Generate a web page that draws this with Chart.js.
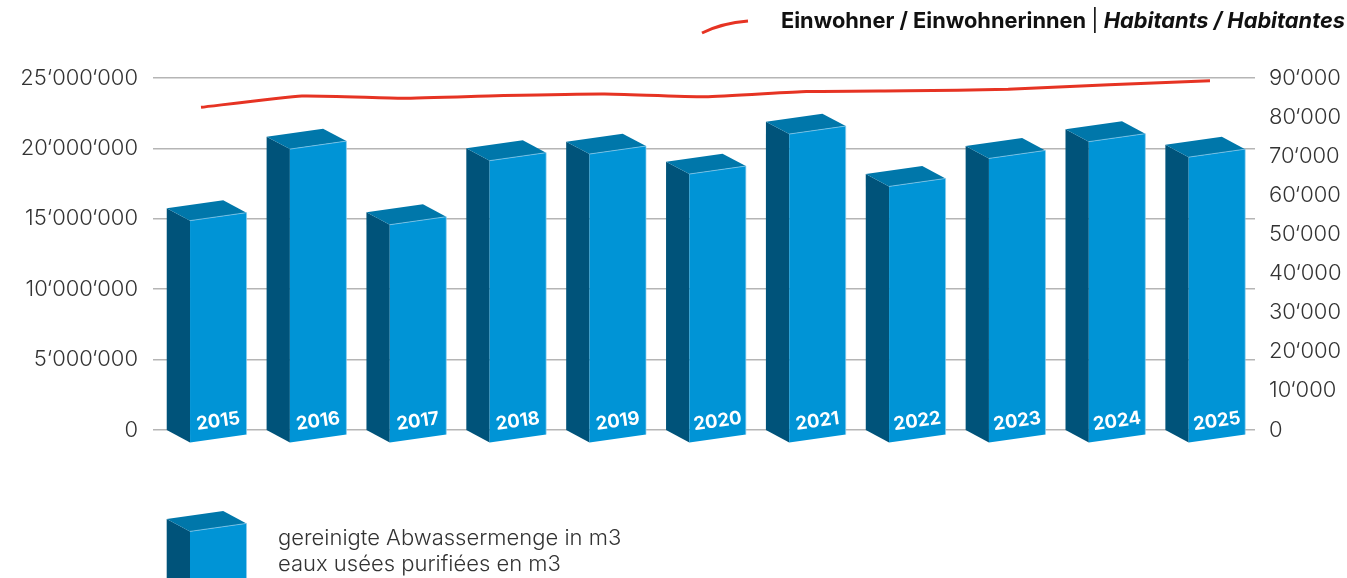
<!DOCTYPE html>
<html><head><meta charset="utf-8">
<script src="https://cdn.jsdelivr.net/npm/chart.js@4.4.0/dist/chart.umd.min.js"></script>
<style>
html,body{margin:0;padding:0;background:#fff;}
#wrap{position:relative;width:1347px;height:578px;overflow:hidden;}
#c{position:absolute;left:0;top:0;}
#legTop{position:absolute;right:2px;top:5px;font-family:Inter,sans-serif;font-size:21.8px;font-weight:700;color:#111;white-space:nowrap;line-height:30px;}
#legTop .sep{font-weight:400;}
#legBot{position:absolute;left:278px;top:524px;font-family:Inter,sans-serif;font-weight:300;font-size:22px;line-height:26px;color:#333;white-space:nowrap;}
#redIcon{position:absolute;left:0;top:0;}
</style></head>
<body>
<div id="wrap">
<canvas id="c" width="1347" height="578"></canvas>
<svg id="redIcon" width="1347" height="60"><path d="M702,33 Q722,23 748,21" stroke="#e63323" stroke-width="3" fill="none"/></svg>
<div id="legTop">Einwohner / Einwohnerinnen <span class="sep">|</span> <i>Habitants / Habitantes</i></div>
<div id="legBot">gereinigte Abwassermenge in m3<br>eaux usées purifiées en m3</div>
</div>
<script>
const years = ['2015','2016','2017','2018','2019','2020','2021','2022','2023','2024','2025'];
const wastewater = [15750000, 20830000, 15460000, 20010000, 20480000, 19060000, 21900000, 18180000, 20170000, 21360000, 20260000];
const population = [82500, 85400, 84800, 85500, 85900, 85200, 86550, 86750, 87100, 88300, 89300];
const leftMax = 25000000, leftStep = 5000000;
const rightMax = 90000, rightStep = 10000;

function fmt(v){ return String(v).replace(/\B(?=(\d{3})+(?!\d))/g, '\u2018'); }

const DX = 23.3, DY = 12.4, FW = 56.5, SL = -8;
function poly(ctx, pts, fill){
  ctx.beginPath(); ctx.moveTo(pts[0][0], pts[0][1]);
  for (let i=1;i<pts.length;i++) ctx.lineTo(pts[i][0], pts[i][1]);
  ctx.closePath(); ctx.fillStyle = fill; ctx.fill();
}
function drawCube(ctx, s, top, base){
  const h = base - top;
  const A=[s,top], B=[s+DX, top+DY], C=[s+DX+FW, top+DY+SL], D=[s+FW, top+SL];
  poly(ctx, [A,B,[B[0],B[1]+h],[A[0],A[1]+h]], '#00537a');
  poly(ctx, [B,C,[C[0],C[1]+h],[B[0],B[1]+h]], '#0094d6');
  poly(ctx, [A,B,C,D], '#0077aa');
  ctx.save();
  ctx.strokeStyle = 'rgba(140,205,240,0.7)'; ctx.lineWidth = 1;
  ctx.beginPath(); ctx.moveTo(B[0],B[1]); ctx.lineTo(C[0],C[1]); ctx.lineTo(C[0],C[1]+h); ctx.stroke();
  ctx.restore();
}

const bars3d = {
  id:'bars3d',
  beforeDatasetsDraw(chart){
    const ctx = chart.ctx;
    const xs = chart.scales.x, ys = chart.scales.y;
    const vals = chart.data.datasets[1].data;
    const labels = chart.data.labels;
    const base = ys.getPixelForValue(0);
    vals.forEach((p,i)=>{
      const x = xs.getPixelForValue(p.x);
      const top = ys.getPixelForValue(p.y);
      const s = x - 39.6;
      drawCube(ctx, s, top, base);
      const cx = s + DX + FW/2;
      const cy = base + DY + SL/2 - 17;
      ctx.save();
      ctx.translate(cx, cy);
      ctx.rotate(Math.atan2(SL, FW));
      ctx.fillStyle = '#fff';
      ctx.font = 'bold 18.5px Inter, sans-serif';
      ctx.textAlign = 'center'; ctx.textBaseline = 'middle';
      ctx.fillText(labels[i], 0, 0);
      ctx.restore();
    });
  },
  afterDraw(chart){
    drawCube(chart.ctx, 166.7, 519, 640);
  }
};

const tickFont = {family:'Inter, sans-serif', size:22, weight:'300'};

new Chart(document.getElementById('c').getContext('2d'), {
  data: {
    labels: years,
    datasets: [
      {type:'line', label:'Einwohner / Einwohnerinnen', data: population.map((v,i)=>({x:i, y:v})),
       xAxisID:'x2', yAxisID:'y1', borderColor:'#e63323', borderWidth:3, pointRadius:0, tension:0.15, fill:false},
      {type:'bar', label:'gereinigte Abwassermenge in m3', data: wastewater.map((v,i)=>({x:i, y:v})), xAxisID:'x', yAxisID:'y',
       backgroundColor:'rgba(0,0,0,0)', borderWidth:0}
    ]
  },
  options: {
    responsive:false, animation:false,
    layout:{padding:{top:78, bottom:148, left:0, right:0}},
    plugins:{legend:{display:false}, tooltip:{enabled:false}},
    scales:{
      x:{type:'linear', display:false, offset:false, min:-0.504, max:10.501},
      x2:{type:'linear', display:false, min:-0.446, max:10.446},
      y:{position:'left', min:0, max:leftMax,
         ticks:{stepSize:leftStep, callback:fmt, padding:15, color:'#333', font:tickFont},
         grid:{color:'#b5b5b5', lineWidth:1.5, tickLength:3, drawTicks:true},
         border:{display:false},
         afterFit:s=>{s.width=156;}},
      y1:{position:'right', min:0, max:rightMax,
         ticks:{stepSize:rightStep, callback:fmt, padding:14, color:'#333', font:tickFont},
         grid:{display:false, drawTicks:false},
         border:{display:false},
         afterFit:s=>{s.width=92;}}
    }
  },
  plugins:[bars3d]
});
</script>
</body></html>
